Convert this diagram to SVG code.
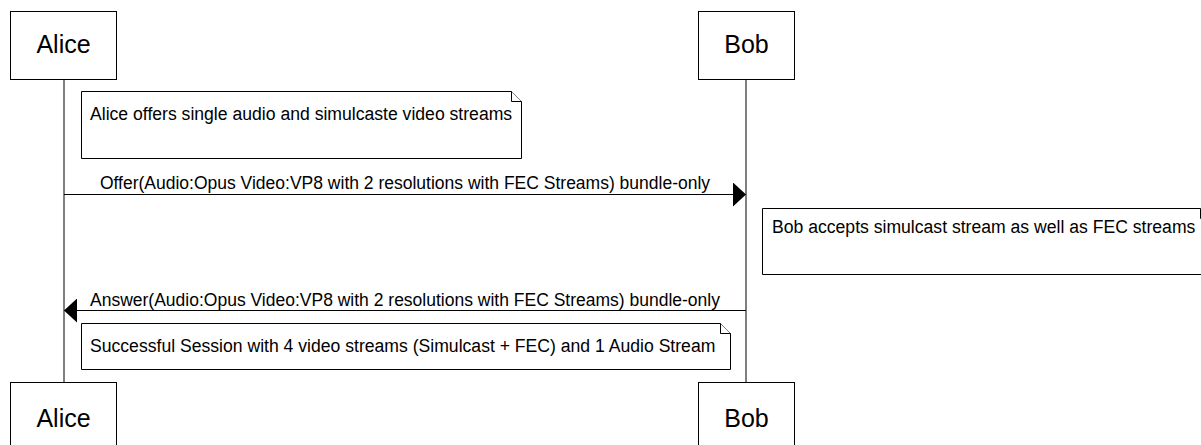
<svg xmlns="http://www.w3.org/2000/svg" width="1201" height="445" viewBox="0 0 1201 445">
<style>
.box{fill:#fff;stroke:#000;stroke-width:1}
.life{stroke:#000;stroke-width:1;fill:none}
.msg{stroke:#000;stroke-width:1;fill:none}
.note{fill:#fff;stroke:#000;stroke-width:1}
.actor{font-family:"Liberation Sans",Arial,sans-serif;font-size:25px;fill:#000;text-anchor:middle}
.t{font-family:"Liberation Sans",Arial,sans-serif;font-size:17.6px;fill:#000}
.tm{font-family:"Liberation Sans",Arial,sans-serif;font-size:17.5px;fill:#000;text-anchor:middle}
</style>
<defs>
<marker id="ah" viewBox="0 0 13 24" refX="13" refY="12" markerWidth="13" markerHeight="24" markerUnits="userSpaceOnUse" orient="auto">
<path d="M0,0 L13,12 L0,24 Z" fill="#000"/>
</marker>
</defs>
<rect width="1201" height="445" fill="#fff"/>
<g id="lifelines">
<line class="life" x1="64" y1="79" x2="64" y2="383"/>
<line class="life" x1="746" y1="79" x2="746" y2="383"/>
</g>
<g id="alice-top"><rect class="box" x="10.5" y="11.5" width="106" height="68"/><text class="actor" x="63.5" y="53">Alice</text></g>
<g id="bob-top"><rect class="box" x="698.5" y="11.5" width="96" height="68"/><text class="actor" x="746.5" y="53">Bob</text></g>
<g id="alice-bottom"><rect class="box" x="10.5" y="382.5" width="106" height="68"/><text class="actor" x="63.5" y="427">Alice</text></g>
<g id="bob-bottom"><rect class="box" x="698.5" y="382.5" width="96" height="68"/><text class="actor" x="746.5" y="427">Bob</text></g>
<g id="note1"><path class="note" d="M81.5,91.5 H511.5 L521.5,101.5 V158.5 H81.5 Z"/><path class="note" d="M511.5,91.5 V101.5 H521.5" fill="none"/><text class="t" x="90" y="120">Alice offers single audio and simulcaste video streams</text></g>
<g id="note2"><path class="note" d="M762.5,208.5 H1200.5 L1210.5,218.5 V274.5 H762.5 Z"/><path class="note" d="M1200.5,208.5 V218.5 H1210.5" fill="none"/><text class="t" x="772" y="233">Bob accepts simulcast stream as well as FEC streams</text></g>
<g id="note3"><path class="note" d="M81.5,323.5 H720.5 L730.5,333.5 V369.5 H81.5 Z"/><path class="note" d="M720.5,323.5 V333.5 H730.5" fill="none"/><text class="t" x="90" y="352">Successful Session with 4 video streams (Simulcast + FEC) and 1 Audio Stream</text></g>
<g id="connectors">
<line class="msg" x1="64" y1="194.5" x2="746" y2="194.5" marker-end="url(#ah)"/>
<text class="tm" x="405" y="189">Offer(Audio:Opus Video:VP8 with 2 resolutions with FEC Streams) bundle-only</text>
<line class="msg" x1="746" y1="310.5" x2="64" y2="310.5" marker-end="url(#ah)"/>
<text class="tm" x="405" y="306">Answer(Audio:Opus Video:VP8 with 2 resolutions with FEC Streams) bundle-only</text>
</g>
</svg>
